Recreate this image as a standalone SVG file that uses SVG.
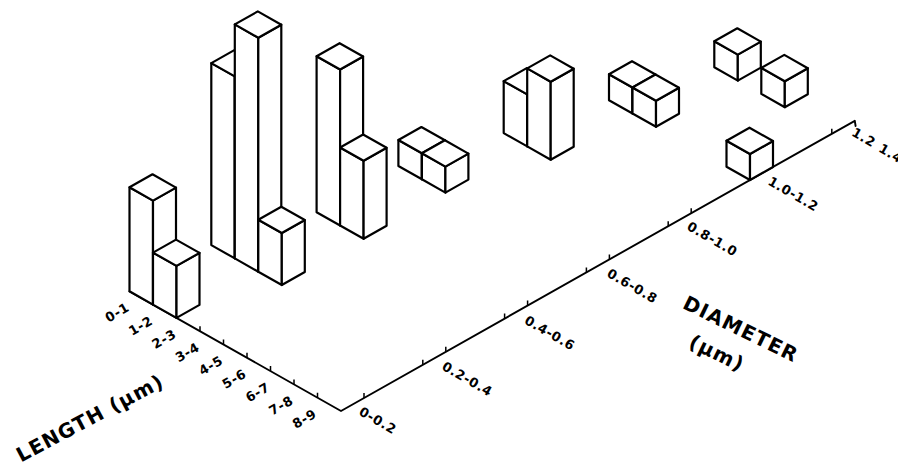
<svg xmlns="http://www.w3.org/2000/svg" xmlns:xlink="http://www.w3.org/1999/xlink" width="898" height="475" viewBox="0 0 898 475">
<style>
.f{fill:#fff;stroke:#000;stroke-width:2.2;stroke-linejoin:round}
.ax{fill:none;stroke:#000;stroke-width:1.9;stroke-linecap:round;stroke-linejoin:round}
.tk{fill:none;stroke:#000;stroke-width:1.5}
.lb{font-family:"DejaVu Sans","Liberation Sans",sans-serif;font-weight:bold;font-size:13px;letter-spacing:0.6px;text-anchor:middle;fill:#000}
.tt{font-family:"DejaVu Sans","Liberation Sans",sans-serif;font-weight:bold;font-size:20px;letter-spacing:1.2px;text-anchor:middle;fill:#000}
</style>
<defs>
<g id="h1"><polygon class="f" points="-23.5,-13.3 0,0 0,-26 -23.5,-39.3"/><polygon class="f" points="0,0 23,-13 23,-39 0,-26"/><polygon class="f" points="0,-26 23,-39 -0.5,-52.3 -23.5,-39.3"/></g>
<g id="h2"><polygon class="f" points="-23.5,-13.3 0,0 0,-52 -23.5,-65.3"/><polygon class="f" points="0,0 23,-13 23,-65 0,-52"/><polygon class="f" points="0,-52 23,-65 -0.5,-78.3 -23.5,-65.3"/></g>
<g id="h3"><polygon class="f" points="-23.5,-13.3 0,0 0,-78 -23.5,-91.3"/><polygon class="f" points="0,0 23,-13 23,-91 0,-78"/><polygon class="f" points="0,-78 23,-91 -0.5,-104.3 -23.5,-91.3"/></g>
<g id="h4"><polygon class="f" points="-23.5,-13.3 0,0 0,-104 -23.5,-117.3"/><polygon class="f" points="0,0 23,-13 23,-117 0,-104"/><polygon class="f" points="0,-104 23,-117 -0.5,-130.3 -23.5,-117.3"/></g>
<g id="h6"><polygon class="f" points="-23.5,-13.3 0,0 0,-156 -23.5,-169.3"/><polygon class="f" points="0,0 23,-13 23,-169 0,-156"/><polygon class="f" points="0,-156 23,-169 -0.5,-182.3 -23.5,-169.3"/></g>
<g id="h7"><polygon class="f" points="-23.5,-13.3 0,0 0,-182 -23.5,-195.3"/><polygon class="f" points="0,0 23,-13 23,-195 0,-182"/><polygon class="f" points="0,-182 23,-195 -0.5,-208.3 -23.5,-195.3"/></g>
<g id="h9"><polygon class="f" points="-23.5,-13.3 0,0 0,-234 -23.5,-247.3"/><polygon class="f" points="0,0 23,-13 23,-247 0,-234"/><polygon class="f" points="0,-234 23,-247 -0.5,-260.3 -23.5,-247.3"/></g>
</defs>
<rect width="898" height="475" fill="#fff"/>

<g id="axes">
<polyline class="ax" points="129.5,291.3 341,411 854.8,120.8 855.6,126"/>
<path class="tk" d="M317.5,397.7v-5M294,384.4v-5M270.5,371.1v-5M247,357.8v-5M223.5,344.5v-5M200,331.2v-5"/>
<path class="tk" d="M364,398v-5M422.8,364.8v-5M445.8,351.8v-5M504.6,318.6v-5M527.6,305.6v-5M586.4,272.4v-5M609.4,259.4v-5M668.2,226.2v-5M691.2,213.2v-5M831.8,133.8v-5"/>
</g>

<g id="bars">
<g id="bar-d6-l4-5" transform="translate(737.8,80.6)"><use xlink:href="#h1"/></g>
<g id="bar-d6-l6-7" transform="translate(784.8,107.2)"><use xlink:href="#h1"/></g>
<g id="bar-d5-l3-4" transform="translate(632.5,113.5)"><use xlink:href="#h1"/></g>
<g id="bar-d5-l4-5" transform="translate(656,126.8)"><use xlink:href="#h1"/></g>
<g id="bar-d5-l8-9" transform="translate(750,180)"><use xlink:href="#h1"/></g>
<g id="bar-d4-l2-3" transform="translate(527.2,146.4)"><use xlink:href="#h2"/></g>
<g id="bar-d4-l3-4" transform="translate(550.7,159.7)"><use xlink:href="#h3"/></g>
<g id="bar-d3-l1-2" transform="translate(421.9,179.3)"><use xlink:href="#h1"/></g>
<g id="bar-d3-l2-3" transform="translate(445.4,192.6)"><use xlink:href="#h1"/></g>
<g id="bar-d2-l1-2" transform="translate(340.1,225.5)"><use xlink:href="#h6"/></g>
<g id="bar-d2-l2-3" transform="translate(363.6,238.8)"><use xlink:href="#h3"/></g>
<g id="bar-d1-l0-1" transform="translate(234.8,258.4)"><use xlink:href="#h7"/></g>
<g id="bar-d1-l1-2" transform="translate(258.3,271.7)"><use xlink:href="#h9"/></g>
<g id="bar-d1-l2-3" transform="translate(281.8,285)"><use xlink:href="#h2"/></g>
<g id="bar-d0-l0-1" transform="translate(153,304.6)"><use xlink:href="#h4"/></g>
<g id="bar-d0-l1-2" transform="translate(176.5,317.9)"><use xlink:href="#h2"/></g>
</g>

<g id="length-labels">
<text class="lb" transform="translate(117,312) rotate(-30)" y="5">0-1</text>
<text class="lb" transform="translate(140.4,325.3) rotate(-30)" y="5">1-2</text>
<text class="lb" transform="translate(163.8,338.6) rotate(-30)" y="5">2-3</text>
<text class="lb" transform="translate(187.2,351.9) rotate(-30)" y="5">3-4</text>
<text class="lb" transform="translate(210.6,365.2) rotate(-30)" y="5">4-5</text>
<text class="lb" transform="translate(234,378.5) rotate(-30)" y="5">5-6</text>
<text class="lb" transform="translate(257.4,391.8) rotate(-30)" y="5">6-7</text>
<text class="lb" transform="translate(280.8,405.1) rotate(-30)" y="5">7-8</text>
<text class="lb" transform="translate(304.2,418.4) rotate(-30)" y="5">8-9</text>
<text class="tt" transform="translate(90,418) rotate(-28)" y="7">LENGTH (μm)</text>
</g>

<g id="diameter-labels">
<text class="lb" transform="translate(378,420) rotate(30)" y="5">0-0.2</text>
<text class="lb" transform="translate(467.5,378.5) rotate(30)" y="5">0.2-0.4</text>
<text class="lb" transform="translate(550,332.5) rotate(30)" y="5">0.4-0.6</text>
<text class="lb" transform="translate(632.5,285.5) rotate(30)" y="5">0.6-0.8</text>
<text class="lb" transform="translate(712.5,238.5) rotate(30)" y="5">0.8-1.0</text>
<text class="lb" transform="translate(793.5,193.5) rotate(30)" y="5">1.0-1.2</text>
<text class="lb" transform="translate(864,137) rotate(30)" y="5">1.2</text>
<text class="lb" transform="translate(891,153) rotate(30)" y="5">1.4</text>
<text class="tt" transform="translate(741,329) rotate(26)" y="7">DIAMETER</text>
<text class="tt" transform="translate(717,353) rotate(26)" y="7">(μm)</text>
</g>
</svg>
